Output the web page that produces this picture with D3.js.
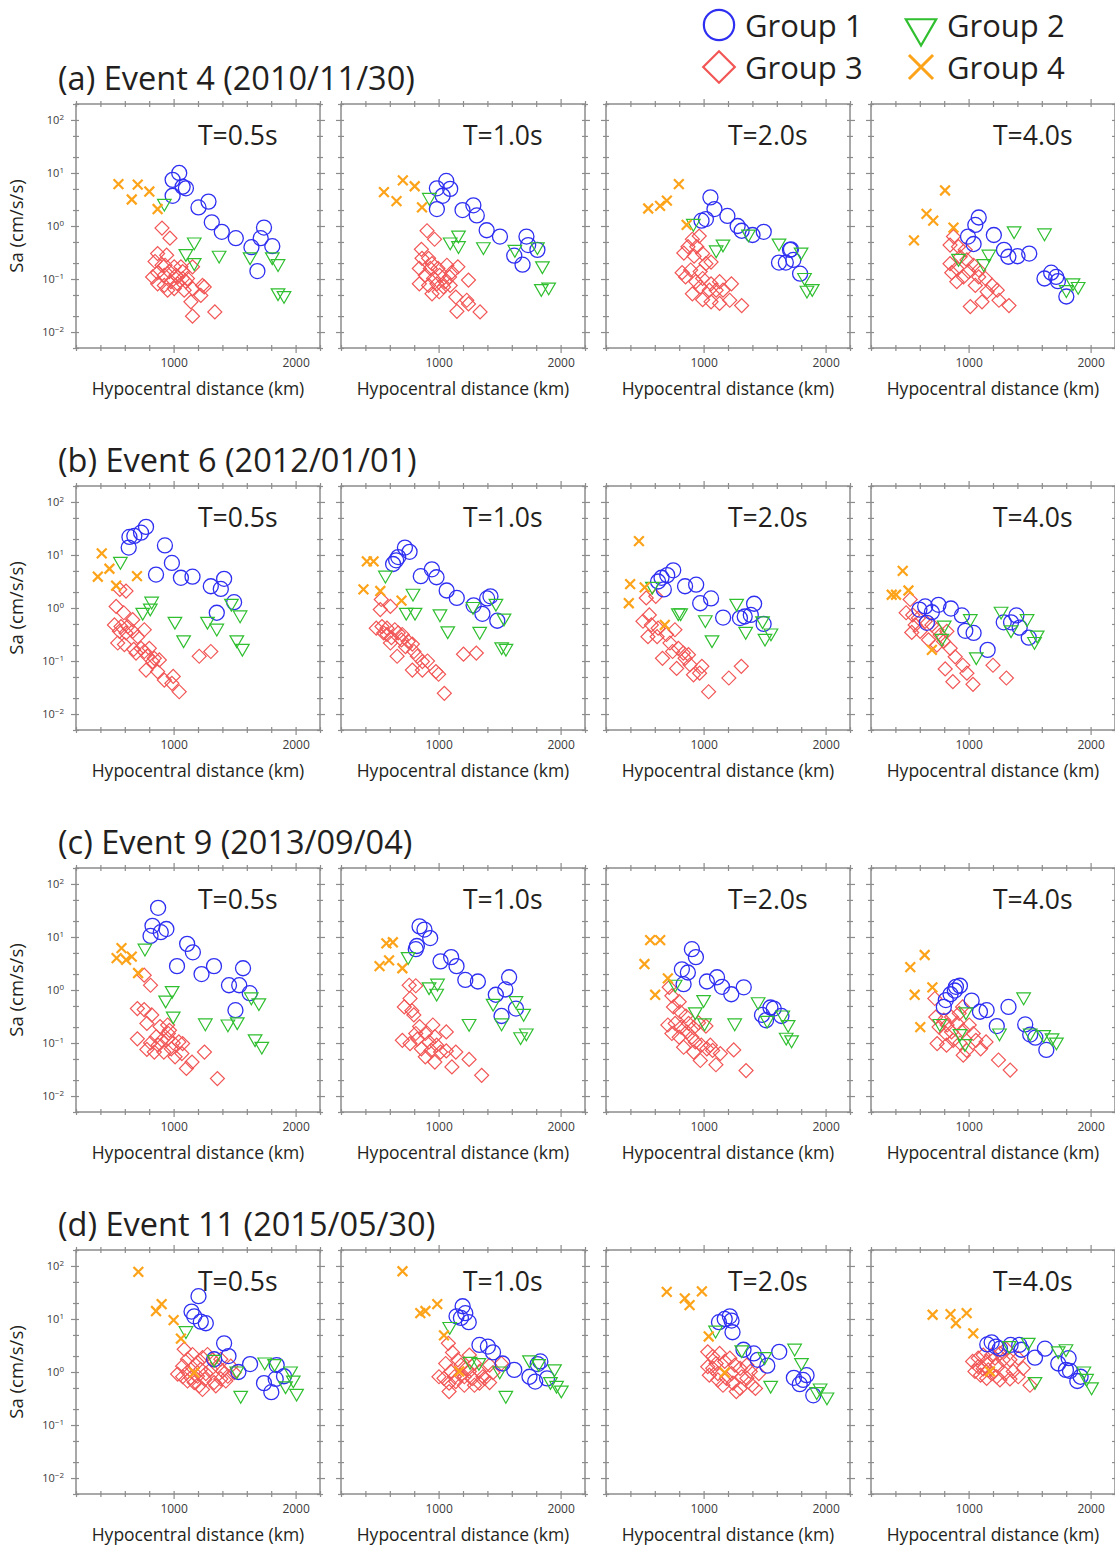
<!DOCTYPE html>
<html>
<head>
<meta charset="utf-8">
<script src="https://cdn.jsdelivr.net/npm/d3@7"></script>
<style>
  body { margin: 0; background: #fff; }
  svg { font-family: "Open Sans", sans-serif; }
</style>
</head>
<body>
<svg id="chart" width="1115" height="1549"></svg>
<script>
let eventTitles = ["(a) Event 4 (2010/11/30)", "(b) Event 6 (2012/01/01)", "(c) Event 9 (2013/09/04)", "(d) Event 11 (2015/05/30)"];
let periods = ["T=0.5s", "T=1.0s", "T=2.0s", "T=4.0s"];
let groupNames = ["Group 1", "Group 2", "Group 3", "Group 4"];
let xLabelTicks = [1000, 2000];
let yLabelTicks = [0.01, 0.1, 1, 10, 100];

// points are [hypocentral distance km, log10 Sa (cm/s/s)], one list per period T=0.5,1,2,4 s
// Event 4
let e4_g1 = [
  [[1046,1.0],[992,.87],[992,.57],[1074,.74],[1101,.71],[1204,.35],[1286,.46],[1313,.07],[1395,-.11],[1510,-.23],[1638,-.40],[1741,-.03],[1714,-.23],[1809,-.38],[1687,-.85]],
  [[1063,.85],[1095,.70],[986,.71],[1033,.57],[986,.32],[1196,.30],[1285,.39],[1313,.20],[1394,-.08],[1503,-.20],[1720,-.20],[1734,-.36],[1810,-.45],[1620,-.56],[1688,-.73]],
  [[1056,.54],[1089,.32],[983,.10],[1019,.13],[1195,.19],[1279,0],[1312,-.09],[1401,-.17],[1493,-.11],[1716,-.44],[1618,-.69],[1674,-.69],[1735,-.64],[1791,-.90],[1708,-.45]],
  [[1083,.16],[1055,.02],[995,-.20],[1041,-.34],[1207,-.17],[1290,-.45],[1326,-.58],[1401,-.57],[1497,-.52],[1622,-.99],[1677,-.88],[1718,-.96],[1732,-1.04],[1801,-1.33]]
];
let e4_g2 = [
  [[924,.43],[1169,-.30],[1101,-.52],[1169,-.69],[1373,-.55],[1627,-.58],[1809,-.58],[1856,-.71],[1856,-1.26],[1905,-1.31]],
  [[924,.54],[1163,-.17],[1095,-.30],[1163,-.37],[1367,-.39],[1625,-.44],[1810,-.39],[1851,-.75],[1842,-1.18],[1902,-1.15]],
  [[916,.05],[1368,-.15],[1159,-.34],[1103,-.45],[1618,-.32],[1799,-.49],[1827,-.97],[1847,-1.21],[1891,-1.18]],
  [[1373,-.09],[1622,-.13],[1166,-.53],[1124,-.71],[917,-.61],[1801,-1.20],[1856,-1.07],[1898,-1.14]]
];
let e4_g3 = [
  [[905,-.04],[970,-.23],[869,-.52],[943,-.55],[848,-.67],[905,-.74],[869,-.88],[828,-.96],[924,-.93],[965,-.86],[1005,-.77],[1060,-.77],[1019,-.93],[1074,-.99],[978,-1.05],[1033,-1.09],[1101,-1.05],[1155,-.77],[924,-1.12],[869,-1.09],[951,-1.21],[1005,-1.18],[1087,-1.21],[1155,-1.18],[1237,-1.12],[1251,-1.15],[1142,-1.43],[1223,-1.31],[1155,-1.70],[1338,-1.62],[1074,-.86],[1114,-.99],[930,-.74],[1033,-.96]],
  [[905,-.09],[967,-.25],[859,-.44],[918,-.61],[842,-.80],[946,-.71],[995,-.80],[1068,-.74],[1158,-.77],[1245,-1.02],[1008,-.93],[1090,-.96],[842,-1.09],[918,-1.12],[986,-1.09],[1041,-1.15],[946,-1.28],[1005,-1.24],[1095,-1.12],[1141,-1.34],[1231,-1.40],[1245,-1.47],[1150,-1.61],[1340,-1.62],[891,-.93],[959,-.99],[1054,-1.05],[864,-.61],[1109,-.87],[932,-.80]],
  [[964,-.19],[908,-.25],[872,-.39],[944,-.39],[838,-.51],[922,-.57],[992,-.52],[1061,-.68],[1019,-.71],[824,-.88],[894,-.83],[972,-.86],[852,-.96],[936,-1.05],[992,-.99],[1061,-1.09],[1131,-1.05],[1228,-1.09],[908,-1.28],[992,-1.39],[1061,-1.43],[1131,-1.46],[1214,-1.40],[1312,-1.50],[1103,-1.21],[1159,-1.21],[1047,-1.21],[972,-1.15]],
  [[876,-.20],[848,-.36],[917,-.39],[972,-.45],[931,-.58],[848,-.71],[903,-.80],[862,-.88],[986,-.64],[1041,-.74],[1000,-.86],[1083,-.83],[1138,-.99],[903,-1.05],[1055,-1.12],[1152,-1.24],[1235,-1.21],[1249,-1.40],[1110,-1.43],[1014,-1.52],[1331,-1.50],[958,-.96],[1083,-.96],[1193,-1.12]]
];
let e4_g4 = [
  [[548,.79],[657,.50],[706,.78],[801,.65],[869,.32]],
  [[552,.64],[655,.47],[707,.86],[804,.75],[864,.35]],
  [[546,.33],[643,.38],[699,.48],[797,.79],[861,.02]],
  [[552,-.27],[655,.23],[710,.10],[807,.67],[876,-.03]]
];

// Event 6
let e6_g1 = [
  [[774,1.53],[733,1.42],[678,1.36],[638,1.34],[632,1.14],[929,1.18],[986,.85],[856,.63],[1060,.57],[1155,.59],[1305,.41],[1414,.55],[1387,.36],[1496,.11],[1354,-.09]],
  [[724,1.14],[762,1.06],[669,.96],[627,.83],[652,.90],[854,.60],[945,.73],[983,.58],[1066,.33],[1149,.19],[1287,.05],[1359,-.11],[1398,.18],[1425,.22],[1481,-.24]],
  [[751,.71],[702,.62],[655,.57],[627,.50],[674,.35],[848,.41],[939,.44],[972,.09],[1061,.18],[1160,-.18],[1298,-.19],[1337,-.16],[1387,-.13],[1414,.08],[1492,-.30]],
  [[753,.06],[855,-.01],[644,.03],[597,-.03],[699,-.08],[658,-.28],[945,-.14],[973,-.43],[1041,-.47],[1156,-.79],[1288,-.27],[1348,-.27],[1392,-.14],[1419,-.37],[1493,-.56]]
];
let e6_g2 = [
  [[564,.88],[747,-.08],[820,.13],[809,0],[1011,-.25],[1082,-.60],[1278,-.25],[1354,-.38],[1474,.09],[1545,-.13],[1518,-.60],[1564,-.76]],
  [[564,.62],[790,.28],[735,-.08],[807,-.08],[1011,-.11],[1075,-.43],[1282,.03],[1337,-.44],[1470,.09],[1536,-.19],[1517,-.73],[1552,-.76]],
  [[580,.41],[793,-.09],[812,-.09],[1014,-.22],[1069,-.60],[1271,.09],[1345,-.44],[1483,-.24],[1503,-.57],[1552,-.47]],
  [[1014,-.20],[800,-.32],[1063,-.92],[1266,-.06],[1348,-.41],[1479,-.20],[1562,-.51],[1540,-.63],[781,-.57]]
];
let e6_g3 = [
  [[559,.35],[610,.32],[529,.03],[591,-.09],[665,-.22],[515,-.32],[569,-.35],[624,-.35],[556,-.44],[610,-.47],[665,-.44],[706,-.54],[760,-.41],[542,-.66],[597,-.69],[673,-.78],[760,-.82],[801,-.76],[787,-.91],[842,-.95],[883,-.98],[828,-1.01],[774,-1.17],[869,-1.20],[924,-1.36],[997,-1.29],[986,-1.42],[1046,-1.58],[1210,-.91],[1305,-.82],[692,-.85],[733,-.76]],
  [[530,.16],[605,.03],[522,-.03],[489,-.38],[536,-.35],[577,-.38],[641,-.41],[669,-.47],[550,-.47],[613,-.56],[696,-.60],[751,-.63],[785,-.68],[729,-.73],[798,-.82],[826,-.91],[867,-1.01],[909,-1.00],[605,-.66],[660,-.91],[785,-1.17],[867,-1.17],[978,-1.20],[1000,-1.25],[1047,-1.61],[1204,-.87],[1309,-.85],[577,-.50],[702,-.50]],
  [[530,.19],[608,.22],[555,-.13],[503,-.25],[572,-.32],[627,-.38],[544,-.54],[619,-.54],[696,-.50],[765,-.41],[724,-.66],[793,-.76],[663,-.95],[848,-.95],[779,-1.14],[889,-1.07],[917,-1.26],[986,-1.10],[967,-1.23],[1041,-1.58],[1207,-1.32],[1309,-1.10],[834,-.85],[876,-.88],[746,-.82]],
  [[521,.16],[488,-.09],[542,-.13],[589,-.19],[644,-.25],[534,-.46],[603,-.44],[671,-.60],[740,-.41],[767,-.51],[822,-.44],[795,-.63],[740,-.70],[849,-.76],[890,-.92],[953,-1.08],[808,-1.15],[986,-1.23],[871,-1.39],[1036,-1.44],[1200,-1.08],[1310,-1.32],[562,-.32],[699,-.32]]
];
let e6_g4 = [
  [[411,1.03],[474,.74],[379,.59],[529,.42],[700,.60]],
  [[412,.88],[467,.88],[384,.35],[522,.32],[696,.14]],
  [[470,1.26],[398,.45],[387,.09],[517,.39],[682,-.32]],
  [[460,.70],[507,.33],[370,.25],[405,.25],[699,-.79]]
];

// Event 9
let e9_g1 = [
  [[873,1.55],[827,1.21],[811,1.02],[895,1.09],[941,1.15],[1028,.45],[1111,.87],[1158,.71],[1229,.30],[1331,.45],[1454,.09],[1569,.41],[1538,.09],[1624,-.06],[1507,-.38]],
  [[844,1.20],[884,1.14],[931,.98],[822,.83],[813,.77],[1016,.54],[1103,.62],[1147,.45],[1219,.19],[1322,.16],[1469,-.09],[1547,.01],[1578,.24],[1634,-.35],[1516,-.49]],
  [[904,.77],[937,.62],[822,.39],[871,.33],[836,.11],[1027,.16],[1110,.24],[1151,.06],[1227,-.08],[1329,.05],[1479,-.47],[1512,-.57],[1548,-.33],[1575,-.35],[1638,-.49]],
  [[929,.08],[887,-.01],[852,-.08],[813,-.19],[797,-.32],[896,.06],[1025,-.20],[1093,-.41],[1148,-.38],[1327,-.32],[1231,-.68],[1464,-.65],[1505,-.84],[1547,-.90],[1637,-1.13]]
];
let e9_g2 = [
  [[765,.79],[988,-.01],[935,-.19],[997,-.49],[1260,-.62],[1445,-.64],[1522,-.60],[1637,-.13],[1699,-.24],[1668,-.92],[1723,-1.06]],
  [[750,.63],[922,.06],[991,.13],[984,-.06],[1250,-.63],[1447,-.25],[1516,-.62],[1634,-.20],[1697,-.44],[1719,-.81],[1672,-.88]],
  [[767,.11],[1000,-.18],[932,-.41],[1008,-.62],[1255,-.62],[1447,-.22],[1521,-.57],[1649,-.47],[1693,-.65],[1677,-.89],[1721,-.94]],
  [[1451,-.13],[978,-.41],[764,-.63],[929,-.82],[970,-1.01],[1253,-.81],[1505,-.81],[1615,-.84],[1684,-.90],[1720,-.98]]
];
let e9_g3 = [
  [[759,.28],[811,.09],[703,-.35],[759,-.37],[821,-.47],[781,-.63],[703,-.92],[781,-1.12],[842,-1.17],[889,-.69],[951,-.66],[966,-.76],[858,-.88],[904,-.95],[951,-.92],[997,-1.00],[1043,-.98],[1074,-1.01],[981,-1.11],[920,-1.17],[1012,-1.26],[1068,-1.20],[1151,-1.36],[1105,-1.48],[1253,-1.17],[1359,-1.67],[811,-1.00],[873,-1.04],[957,-.82]],
  [[759,.09],[813,.08],[766,-.16],[719,-.32],[781,-.39],[797,-.47],[844,-.69],[953,-.66],[1063,-.79],[703,-.95],[766,-1.01],[828,-.92],[891,-.82],[922,-.98],[969,-.88],[859,-1.11],[938,-1.14],[984,-1.04],[1016,-1.17],[969,-1.36],[1063,-1.15],[1141,-1.17],[1109,-1.45],[1250,-1.31],[1353,-1.61],[813,-.82],[891,-1.26]],
  [[718,.05],[740,-.11],[800,-.22],[753,-.32],[808,-.41],[855,-.49],[707,-.66],[767,-.63],[816,-.70],[877,-.63],[918,-.71],[959,-.62],[1019,-.68],[740,-.82],[800,-.89],[863,-.79],[904,-.89],[836,-1.08],[918,-1.17],[981,-1.04],[1027,-1.11],[1074,-1.14],[973,-1.33],[1137,-1.20],[1247,-1.13],[1101,-1.41],[1348,-1.52],[932,-.98],[1055,-1.04]],
  [[723,-.16],[731,-.51],[797,-.57],[758,-.70],[824,-.66],[860,-.51],[923,-.44],[951,-.32],[907,-.63],[956,-.76],[1005,-.66],[813,-.82],[874,-.95],[929,-1.00],[742,-1.01],[819,-1.04],[984,-1.14],[1060,-.95],[1099,-1.11],[1143,-.98],[956,-1.23],[1245,-1.32],[1341,-1.51],[860,-.79],[1038,-.82]]
];
let e9_g4 = [
  [[573,.79],[533,.60],[611,.57],[657,.63],[709,.32]],
  [[572,.88],[625,.90],[516,.45],[594,.56],[703,.41]],
  [[562,.94],[644,.94],[515,.49],[707,.22],[603,-.09]],
  [[522,.43],[640,.66],[558,-.09],[703,.05],[604,-.70]]
];

// Event 11
let e11_g1 = [
  [[1204,1.43],[1147,1.14],[1169,1.05],[1223,.95],[1264,.92],[1414,.54],[1450,.30],[1332,.24],[1627,.15],[1531,0],[1741,-.21],[1801,-.38],[1837,-.13],[1845,.13],[1905,-.08]],
  [[1197,1.24],[1219,1.11],[1147,1.05],[1183,1.02],[1247,.94],[1335,.51],[1404,.48],[1446,.37],[1524,.16],[1620,.04],[1834,.20],[1812,.15],[1745,-.09],[1792,-.18],[1889,-.12]],
  [[1215,1.05],[1173,1.00],[1126,.94],[1229,.97],[1237,.75],[1327,.42],[1411,.35],[1444,.23],[1522,.12],[1620,.38],[1740,-.11],[1844,-.06],[1816,-.15],[1788,-.23],[1899,-.44]],
  [[1189,.56],[1153,.52],[1224,.48],[1257,.44],[1344,.51],[1415,.51],[1544,.27],[1626,.44],[1434,.42],[1735,.16],[1820,.26],[1798,.04],[1831,.02],[1891,-.17],[1918,-.09]]
];
let e11_g2 = [
  [[1101,.78],[1332,.24],[1518,.02],[1550,-.44],[1747,.19],[1828,.16],[1959,.02],[1981,-.15],[1918,-.26],[2008,-.40]],
  [[1091,.86],[1258,.20],[1330,.18],[1501,.02],[1551,-.44],[1745,.23],[1820,.16],[1950,.06],[1917,-.18],[1967,-.25],[2006,-.34]],
  [[1098,.79],[1313,.42],[1500,.29],[1746,.45],[1802,.18],[1550,-.25],[1955,-.30],[1927,-.37],[2011,-.47]],
  [[1489,.56],[1333,.50],[1544,-.18],[1735,.40],[1798,.44],[1945,.02],[1967,-.12],[2008,-.28]]
];
let e11_g3 = [
  [[1087,.43],[1155,.33],[1114,.24],[1074,.11],[1033,-.04],[1074,-.09],[1114,0],[1155,.08],[1196,.18],[1237,.27],[1278,.33],[1319,.23],[1223,.05],[1264,-.03],[1305,.05],[1360,.11],[1401,.02],[1444,-.08],[1469,.11],[1114,-.17],[1169,-.20],[1210,-.26],[1256,-.14],[1332,-.20],[1387,-.13],[1428,-.17],[1346,-.26],[1142,-.11],[1196,-.08],[1387,.24],[1496,-.01],[1237,-.33]],
  [[1080,.54],[1114,.37],[1158,.23],[1058,.16],[1100,.01],[1044,-.12],[1086,-.21],[1086,-.37],[1141,-.18],[1211,-.09],[1252,.32],[1294,.16],[1335,.01],[1377,-.12],[1418,-.20],[1335,-.21],[1280,-.12],[1224,.06],[1183,.13],[1418,.13],[1446,-.01],[1515,.16],[1003,-.09],[1130,-.09],[1211,-.25],[1294,-.25],[1363,-.09],[1183,-.06],[1252,.01]],
  [[1034,.38],[1075,.29],[1131,.35],[1103,.16],[1034,.10],[1047,-.06],[1117,-.03],[1173,.20],[1215,.26],[1257,.13],[1187,-.12],[1240,-.21],[1268,-.37],[1313,-.09],[1355,-.12],[1299,.07],[1397,-.25],[1425,-.31],[1453,-.03],[1355,.13],[1117,-.15],[1159,-.25],[1299,-.31],[1229,-.03],[1075,.07],[1383,.01]],
  [[1033,.20],[1079,.26],[1120,.32],[1148,.20],[1189,.32],[1216,.26],[1257,.35],[1306,.44],[1079,.10],[1120,.06],[1052,.01],[1161,.04],[1230,.13],[1284,.23],[1339,.23],[1407,.26],[1448,.07],[1407,-.09],[1366,.01],[1298,-.03],[1230,-.09],[1189,-.03],[1257,-.15],[1339,-.13],[1503,-.25],[1098,-.06],[1148,-.12]]
];
let e11_g4 = [
  [[711,1.89],[856,1.15],[902,1.28],[1000,.98],[1060,.63],[1169,-.01]],
  [[704,1.90],[850,1.11],[892,1.15],[989,1.28],[1044,.69],[1169,.01]],
  [[698,1.51],[846,1.39],[885,1.26],[986,1.52],[1042,.67],[1173,-.01]],
  [[705,1.08],[852,1.09],[896,.92],[984,1.11],[1038,.73],[1175,.01]]
];

let eventData = [
  [e4_g1, e4_g2, e4_g3, e4_g4],
  [e6_g1, e6_g2, e6_g3, e6_g4],
  [e9_g1, e9_g2, e9_g3, e9_g4],
  [e11_g1, e11_g2, e11_g3, e11_g4]
];

let symbolX = d3.symbolTimes || d3.symbolX;
// marker styles per group
let styles = [
  { type: d3.symbolCircle, size: 177, color: "#2f2ff2", rot: 0, sw: 1.3, legSize: 720, legSw: 2.2 },
  { type: d3.symbolTriangle, size: 80, color: "#2fbf2f", rot: 180, sw: 1.2, legSize: 400, legSw: 2.2 },
  { type: d3.symbolSquare, size: 98, color: "#f25656", rot: 45, sw: 1.2, legSize: 500, legSw: 2.2 },
  { type: symbolX, size: 64, color: "#fca319", rot: 0, sw: 2.2, legSize: 380, legSw: 3 }
];
let drawOrder = [2, 0, 1, 3];

let svg = d3.select("#chart");
let pw = 244, ph = 244;
let colX0 = 76, colStep = 265;
let rowY0 = 104, rowStep = 382;
let frameCol = "#8c8c8c";
let textCol = "#231f20";

let x = d3.scaleLinear().domain([200, 2200]).range([0, pw]);
let y = d3.scaleLog().domain([0.005, 200]).range([ph, 0]);

let xMinor = d3.range(200, 2201, 200).filter(v => !xLabelTicks.includes(v));
let yMinor = [0.005, 0.02, 0.05, 0.2, 0.5, 2, 5, 20, 50, 200];

let sides = [
  { axis: d3.axisBottom, scale: x, at: `translate(0,${ph})`, h: true, sign: 1 },
  { axis: d3.axisTop, scale: x, at: "translate(0,0)", h: true, sign: -1 },
  { axis: d3.axisLeft, scale: y, at: "translate(0,0)", h: false, sign: -1 },
  { axis: d3.axisRight, scale: y, at: `translate(${pw},0)`, h: false, sign: 1 }
];

function tickSet(g, s, vals, outLen, inLen) {
  g.append("g")
    .attr("transform", s.at)
    .call(s.axis(s.scale).tickValues(vals).tickSize(0).tickFormat(""))
    .call(a => a.select(".domain").remove())
    .call(a => a.selectAll(".tick line")
      .attr(s.h ? "y1" : "x1", -s.sign * inLen)
      .attr(s.h ? "y2" : "x2", s.sign * outLen)
      .attr("stroke", frameCol)
      .attr("stroke-width", 1.2));
}

eventTitles.forEach((title, r) => {
  let top = rowY0 + r * rowStep;

  svg.append("text")
    .attr("x", 58)
    .attr("y", top - 14)
    .attr("font-size", 32.5)
    .attr("fill", textCol)
    .text(title);

  periods.forEach((per, c) => {
    let left = colX0 + c * colStep;
    let g = svg.append("g").attr("transform", `translate(${left},${top})`);

    // frame
    g.append("rect")
      .attr("width", pw).attr("height", ph)
      .attr("fill", "none")
      .attr("stroke", frameCol)
      .attr("stroke-width", 1.5);

    sides.forEach(s => {
      let major = s.h ? xLabelTicks : yLabelTicks;
      let minor = s.h ? xMinor : yMinor;
      tickSet(g, s, minor, 3, 3);
      tickSet(g, s, major, 5, 3);
    });

    // tick labels
    g.append("g")
      .attr("transform", `translate(0,${ph})`)
      .call(d3.axisBottom(x).tickValues(xLabelTicks).tickSize(0).tickPadding(10).tickFormat(d3.format("d")))
      .call(a => a.select(".domain").remove())
      .call(a => a.selectAll(".tick text")
        .attr("font-family", "'Open Sans', sans-serif")
        .attr("font-size", 12)
        .attr("fill", "#3a3a3a"));

    if (c === 0) {
      g.append("g")
        .call(d3.axisLeft(y).tickValues(yLabelTicks).tickSize(0).tickPadding(12))
        .call(a => a.select(".domain").remove())
        .call(a => a.selectAll(".tick text")
          .attr("font-family", "'Open Sans', sans-serif")
          .attr("font-size", 11)
          .attr("fill", "#3a3a3a")
          .each(function (d) {
            let t = d3.select(this).text("10");
            t.append("tspan")
              .attr("dy", "-0.45em")
              .attr("font-size", 8)
              .text(String(Math.round(Math.log10(d))).replace("-", "\u2212"));
          }));

      g.append("text")
        .attr("transform", `translate(${-53},${ph / 2}) rotate(-90)`)
        .attr("text-anchor", "middle")
        .attr("font-size", 18.5)
        .attr("fill", textCol)
        .text("Sa (cm/s/s)");
    }

    // axis title
    g.append("text")
      .attr("x", pw / 2)
      .attr("y", ph + 47)
      .attr("text-anchor", "middle")
      .attr("font-size", 17.5)
      .attr("fill", textCol)
      .text("Hypocentral distance (km)");

    g.append("text")
      .attr("x", pw / 2)
      .attr("y", 41)
      .attr("font-size", 26.5)
      .attr("fill", textCol)
      .text(per);

    // markers
    let plot = g.append("g");
    drawOrder.forEach(k => {
      let st = styles[k];
      let sym = d3.symbol().type(st.type).size(st.size);
      plot.append("g")
        .selectAll("path")
        .data(eventData[r][k][c])
        .join("path")
        .attr("transform", d => `translate(${x(d[0])},${y(Math.pow(10, d[1]))}) rotate(${st.rot})`)
        .attr("d", sym)
        .attr("fill", "none")
        .attr("stroke", st.color)
        .attr("stroke-width", st.sw);
    });
  });
});

// legend
let legendPos = [[719, 25], [921, 25], [719, 67], [921, 67]];
groupNames.forEach((name, k) => {
  let st = styles[k];
  let p = legendPos[k];
  svg.append("path")
    .attr("transform", `translate(${p[0]},${p[1] + (k === 1 ? 3 : 0)}) rotate(${st.rot})`)
    .attr("d", d3.symbol().type(st.type).size(st.legSize))
    .attr("fill", "none")
    .attr("stroke", st.color)
    .attr("stroke-width", st.legSw);
  svg.append("text")
    .attr("x", p[0] + 26)
    .attr("y", p[1] + 12)
    .attr("font-size", 31)
    .attr("fill", textCol)
    .text(name);
});
</script>
</body>
</html>
